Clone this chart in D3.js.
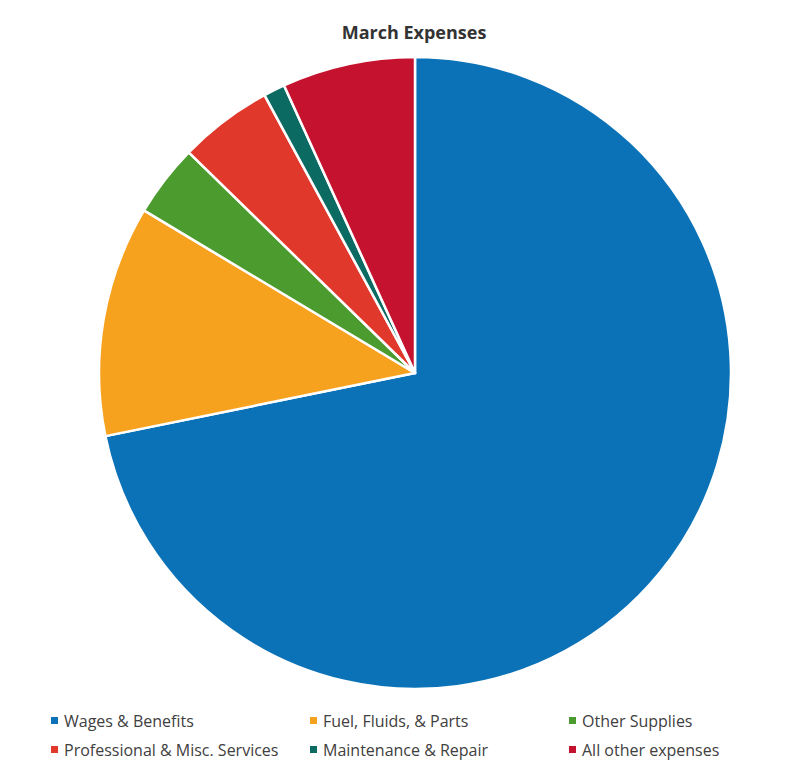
<!DOCTYPE html>
<html><head><meta charset="utf-8">
<script src="https://cdn.jsdelivr.net/npm/d3@7"></script>
<style>body{margin:0;background:#fff;}</style>
</head><body>
<svg id="c" width="794" height="777"></svg>
<script>
const categories = ["Wages & Benefits","Fuel, Fluids, & Parts","Other Supplies","Professional & Misc. Services","Maintenance & Repair","All other expenses"];
const values = [71.8, 11.8, 3.7, 4.8, 1.1, 6.8];
const colors = ["#0b72b7","#f7a21e","#4c9b2e","#e0382b","#0b6b63","#c5122f"];

const svg = d3.select("#c");
const cx = 415, cy = 373, r = 316;
const data = categories.map((c,i)=>({name:c, value:values[i], color:colors[i]}));
const pie = d3.pie().sort(null).value(d=>d.value);
const arc = d3.arc().innerRadius(0).outerRadius(r);
svg.append("g").attr("transform",`translate(${cx},${cy})`)
  .selectAll("path").data(pie(data)).join("path")
  .attr("d",arc).attr("fill",d=>d.data.color)
  .attr("stroke","#fff").attr("stroke-width",2.5).attr("stroke-linejoin","round");

svg.append("text").attr("x",414).attr("y",39).attr("text-anchor","middle")
  .attr("font-family","Open Sans, sans-serif").attr("font-weight","bold")
  .attr("font-size",18).attr("fill","#333").text("March Expenses");

const lx = [51, 310, 569], ly = [721, 750];
const lg = svg.append("g").attr("font-family","Open Sans, sans-serif").attr("font-size",16).attr("fill","#404040");
data.forEach((d,i)=>{
  const x = lx[i%3], y = ly[Math.floor(i/3)];
  lg.append("rect").attr("x",x).attr("y",y-4).attr("width",7).attr("height",7).attr("fill",d.color);
  lg.append("text").attr("x",x+13).attr("y",y+5.5).text(d.name);
});
</script>
</body></html>
